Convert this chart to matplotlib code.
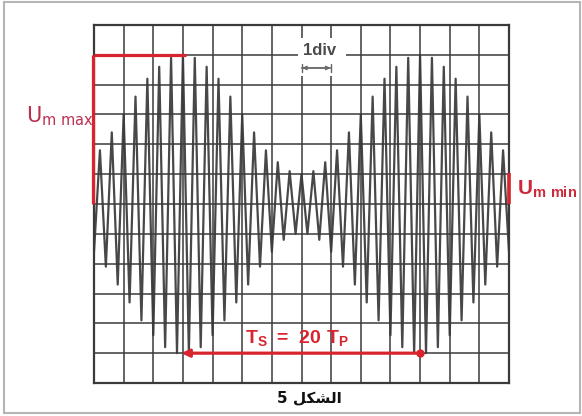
import numpy as np
import matplotlib.pyplot as plt
from matplotlib.patches import Rectangle

plt.rcParams['mathtext.fontset'] = 'custom'
plt.rcParams['mathtext.rm'] = 'Liberation Sans'
plt.rcParams['mathtext.bf'] = 'Liberation Sans:bold'

# oscilloscope screen, in divisions
n_div_x = 14
n_div_y = 12

# carrier period Tp = 0.4 div, Ts = 20 Tp = 8 div (from x = 3 to x = 11)
tp = 0.4
ts_start = 3.0
ts_end = 11.0

# envelope amplitude (div) read at each carrier peak, x = 0 .. 14 div,
# one value per half period, signs alternate starting with a negative peak
peaks = [1.6, 1.8, 2.1, 2.4, 2.7, 3.0, 3.3, 3.6, 3.9, 4.2, 4.4, 4.6, 4.8, 4.9, 5.0,
         5.0,
         5.0, 4.9, 4.8, 4.6, 4.4, 4.2, 3.9, 3.6, 3.3, 3.0, 2.7, 2.4, 2.1, 1.8, 1.6,
         1.4, 1.2, 1.1, 1.0, 1.0,
         1.0, 1.1, 1.2, 1.4, 1.6, 1.8, 2.1, 2.4, 2.7, 3.0, 3.3, 3.6, 3.9, 4.2, 4.4,
         4.6, 4.8, 4.9, 5.0, 5.0,
         5.0, 4.9, 4.8, 4.6, 4.4, 4.2, 3.9, 3.6, 3.3, 3.0, 2.7, 2.4, 2.1, 1.8, 1.6]
first_sign = -1

um_max = 5.0
um_min = 1.0

caption = "الشكل 5"


def shape_arabic(text):
    # matplotlib has no arabic shaping: use presentation forms, visual order
    forms = {'ا': ('\uFE8D', '\uFE8E', None, None),
             'ل': ('\uFEDD', '\uFEDE', '\uFEDF', '\uFEE0'),
             'ش': ('\uFEB5', '\uFEB6', '\uFEB7', '\uFEB8'),
             'ك': ('\uFED9', '\uFEDA', '\uFEDB', '\uFEDC')}
    non_joining = {'ا'}
    out = []
    for word in text.split(' '):
        if not word or word[0] not in forms:
            out.append(word)
            continue
        chars = []
        for i, c in enumerate(word):
            prev_join = i > 0 and word[i-1] in forms and word[i-1] not in non_joining
            next_join = i < len(word)-1 and word[i+1] in forms and c not in non_joining
            iso, fin, ini, med = forms[c]
            if prev_join and next_join:
                chars.append(med)
            elif prev_join:
                chars.append(fin)
            elif next_join:
                chars.append(ini)
            else:
                chars.append(iso)
        out.append(''.join(reversed(chars)))
    return ' '.join(reversed(out))


red = '#d8242e'
grid_c = '#3a3a3a'

fig = plt.figure(figsize=(5.82, 4.16), dpi=100)
ax = fig.add_axes([94/582, 33/416, 415/582, 358/416])
ax.set_xlim(0, n_div_x)
ax.set_ylim(-n_div_y/2, n_div_y/2)
ax.set_xticks(range(n_div_x + 1))
ax.set_yticks(range(-n_div_y//2, n_div_y//2 + 1))
ax.tick_params(length=0, labelbottom=False, labelleft=False)
ax.grid(True, color=grid_c, lw=1.1, zorder=3)
ax.set_axisbelow(False)
for s in ax.spines.values():
    s.set_color('#3a3a3a')
    s.set_linewidth(1.6)

# signal
peaks = np.array(peaks)
signs = first_sign * (-1) ** np.arange(len(peaks))
x = np.arange(len(peaks)) * tp / 2
ax.plot(x, peaks * signs, color='#484848', lw=1.6, zorder=2)

# 1div marker
ax.add_patch(Rectangle((6.87, 4.3), 1.62, 1.26, fc='white', ec='none', zorder=4))
ax.text(7.05, 5.16, '1div', ha='left', va='center', fontsize=12, fontweight='bold',
        family='Liberation Sans', color='#4a4a4a', zorder=5)
ax.annotate('', xy=(7, 4.56), xytext=(8, 4.56),
            arrowprops=dict(arrowstyle='|-|,widthA=0.3,widthB=0.3', color='#666666',
                            lw=1.0, shrinkA=0, shrinkB=0), zorder=5)
ax.annotate('', xy=(7.02, 4.56), xytext=(7.98, 4.56),
            arrowprops=dict(arrowstyle='<->,head_length=0.25,head_width=0.12',
                            color='#666666', lw=1.0, shrinkA=0, shrinkB=0), zorder=5)

# Um max
ax.plot([0, 3.1], [um_max, um_max], color=red, lw=2.3, clip_on=False, zorder=6,
        solid_capstyle='butt')
ax.plot([-0.03, -0.03], [um_max, 0], color=red, lw=2.3, clip_on=False, zorder=6,
        solid_capstyle='butt')
ax.text(-2.3, 2.72, r'$\mathregular{U_{m\ max}}$', fontsize=15, color='#bb3050',
        ha='left', va='baseline', clip_on=False)

# Um min
ax.plot([n_div_x, n_div_x], [0, um_min + 0.05], color=red, lw=2.6, clip_on=False,
        zorder=6, solid_capstyle='butt')
ax.text(14.26, 0.3, r'$\mathbf{U_{m\ min}}$', fontsize=15, color='#cc2a3a',
        ha='left', va='baseline', clip_on=False)

# Ts = 20 Tp
ax.annotate('', xy=(ts_start - 0.05, -5.0), xytext=(ts_end, -5.0),
            arrowprops=dict(arrowstyle='-|>,head_length=0.45,head_width=0.22',
                            color=red, lw=2.3, shrinkA=0, shrinkB=0), zorder=6)
ax.plot([ts_end], [-5.0], 'o', color=red, ms=5, zorder=6)
ax.text(6.84, -4.66, r'$\mathbf{T_S\ =\ 20\ T_P}$', fontsize=14, color=red,
        ha='center', va='baseline', zorder=6)

fig.text(309/582, 1 - 398/416, shape_arabic(caption), ha='center', va='center',
         fontsize=11, fontweight='bold', family='DejaVu Sans', color='#111111')

fig.add_artist(Rectangle((4/582, 3/416), 576/582, 411/416, transform=fig.transFigure,
                         fill=False, ec='#b5b5b5', lw=1.5))

fig.savefig('out.png', dpi=100)
